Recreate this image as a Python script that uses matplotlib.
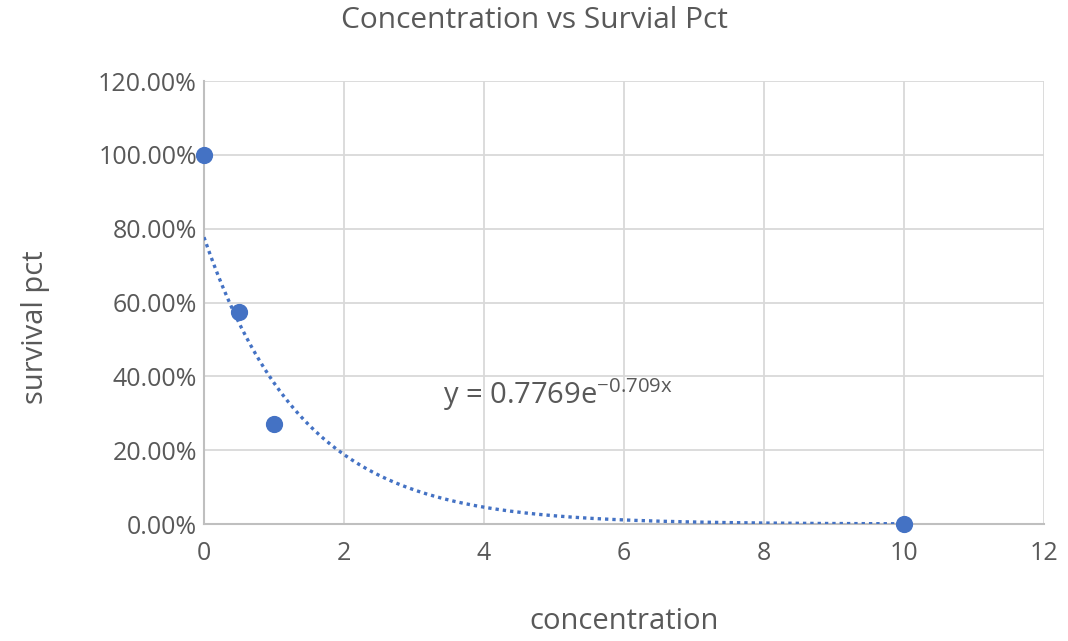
import numpy as np
import matplotlib
matplotlib.use("Agg")
import matplotlib.pyplot as plt
from matplotlib.ticker import FuncFormatter

plt.rcParams['font.family'] = ['Open Sans', 'DejaVu Sans']
plt.rcParams['mathtext.default'] = 'regular'

concentration = [0, 0.5, 1, 10]
survival = [1.0, 0.573, 0.272, 0.0]
fit_a = 0.7769
fit_b = -0.709

fig = plt.figure(figsize=(10.68, 6.41), dpi=100)
ax = fig.add_axes([0.191, 0.1825, 0.7865, 0.6911])

blue = '#4472C4'
grey = '#595959'
xs = np.linspace(0, 10, 300)
ax.plot(xs, fit_a * np.exp(fit_b * xs), linestyle=(0, (1, 1.2)), color=blue, linewidth=2.4, zorder=3)
ax.scatter(concentration, survival, s=130, color=blue, zorder=4, clip_on=False)

ax.set_xlim(0, 12)
ax.set_ylim(0, 1.2)
ax.set_xticks(range(0, 13, 2))
ax.set_yticks(np.arange(0, 1.21, 0.2))
ax.yaxis.set_major_formatter(FuncFormatter(lambda v, p: f"{v*100:.2f}%"))
ax.grid(True, color='#d9d9d9', linewidth=1.3)
ax.set_axisbelow(True)
for s in ['top', 'right']:
    ax.spines[s].set_visible(False)
ax.spines['left'].set_color('#bfbfbf')
ax.spines['bottom'].set_color('#bfbfbf')
ax.spines['left'].set_linewidth(1.5)
ax.spines['bottom'].set_linewidth(1.5)
ax.tick_params(length=0, labelsize=18, colors=grey)
ax.tick_params(axis='y', pad=5)
ax.tick_params(axis='x', pad=12)

ax.set_xlabel('concentration', fontsize=21, color=grey, va='center')
ax.xaxis.set_label_coords(0.5, -0.221)
ax.set_ylabel('survival pct', fontsize=21, color=grey, va='center')
ax.yaxis.set_label_coords(-0.201, 0.445)
fig.suptitle('Concentration vs Survial Pct', fontsize=21.5, color=grey, y=0.99)

ax.text(3.42, 0.35, 'y = 0.7769e$^{-0.709x}$', fontsize=21, color=grey, va='center')

fig.savefig('out.png', dpi=100)
